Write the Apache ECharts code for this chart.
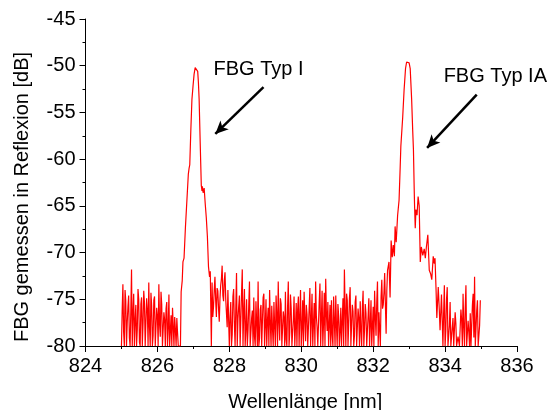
<!DOCTYPE html>
<html>
<head>
<meta charset="utf-8">
<script src="https://cdn.jsdelivr.net/npm/echarts@6/dist/echarts.min.js"></script>
<style>
  html, body { margin: 0; padding: 0; background: #fff; }
  #chart { width: 550px; height: 410px; }
</style>
</head>
<body>
<div id="chart"></div>
<script>
//*************** data ***************
// noise floor, sampled every 0.02 nm
var noiseStep = 0.02;
var noise1Start = 825.00;
var noise1 = [-80, -76.2, -73.4, -78.5, -80, -74.0, -75.2, -80, -77.5, -75.8,
    -74.6, -79.1, -80, -76.3, -71.8, -80, -76.5, -74.4, -80, -77.3,
    -75.6, -80, -78.2, -73.9, -75.0, -79.6, -80, -75.5, -74.8, -80,
    -77.6, -74.1, -75.4, -80, -80, -74.9, -76.1, -80, -73.2, -78.0,
    -80, -74.3, -75.7, -80, -78.9, -75.1, -74.7, -80, -80, -75.9,
    -76.8, -80, -73.4, -77.7, -79.0, -74.2, -75.6, -80, -80, -76.4,
    -77.2, -80, -76.0, -75.3, -80, -78.1, -74.5, -80, -78.4, -76.7,
    -80, -75.9, -77.9, -80, -76.9, -78.2, -80, -77.0, -78.6, -80, -80];

// FBG Typ I reflection peak [wavelength, dB]
var peak1 = [[826.64, -80], [826.66, -74.2], [826.69, -73.0], [826.71, -71.0], [826.74, -70.6],
    [826.78, -67.2], [826.82, -64.4], [826.86, -61.6], [826.88, -61.0], [826.90, -60.6],
    [826.93, -56.8], [826.96, -53.6], [826.99, -52.2], [827.02, -50.9], [827.05, -50.2],
    [827.07, -50.1], [827.10, -50.3], [827.12, -50.6], [827.14, -51.8], [827.16, -53.6],
    [827.19, -58.3], [827.22, -62.8], [827.24, -63.4], [827.25, -62.9], [827.27, -63.6],
    [827.30, -63.1], [827.33, -64.8], [827.36, -66.3], [827.39, -68.3], [827.42, -71.5],
    [827.45, -72.6], [827.47, -72.0], [827.50, -80]];

var noise2Start = 827.52;
var noise2 = [
    -73.2, -76.9, -75.8, -74.0, -72.6, -75.1, -76.9, -73.8, -74.1, -76.0, -77.4, -74.9, -73.5, -72.8, -71.4, -74.6, -75.2, -73.0, -72.1, -75.0,
    -76.5, -78.0, -74.0, -77.2, -80, -76.8, -75.3, -80, -78.8, -74.7, -73.9, -77.6, -80, -75.9, -72.2, -80, -77.1, -75.8, -74.6, -80,
    -80, -74.3, -71.8, -80, -76.4, -73.9, -80, -78.2, -75.0, -80, -78.3, -75.7, -73.1, -80, -80, -77.0, -76.2, -80, -74.8, -79.0,
    -80, -75.2, -77.5, -80, -73.1, -80, -79.2, -76.1, -75.6, -80, -80, -74.8, -74.4, -80, -77.8, -75.0, -80, -77.3, -75.9, -80,
    -74.0, -77.5, -80, -75.7, -78.1, -80, -75.3, -77.9, -80, -74.6, -76.7, -80, -73.1, -77.4, -79.4, -74.9, -75.5, -80, -80, -76.3,
    -77.0, -80, -74.2, -79.3, -80, -75.8, -73.1, -80, -78.6, -74.5, -76.0, -80, -80, -77.2, -74.7, -80, -77.9, -75.4, -80, -76.1,
    -74.7, -80, -76.8, -74.0, -80, -78.1, -75.1, -80, -74.2, -77.0, -79.5, -75.6, -76.6, -80, -80, -75.9, -73.8, -80, -77.2, -74.4,
    -80, -77.6, -75.4, -80, -73.1, -76.8, -78.0, -80, -80, -75.2, -73.3, -80, -76.9, -74.1, -80, -77.5, -74.3, -80, -72.8, -76.6,
    -78.4, -75.3, -80, -77.7, -75.6, -80, -75.1, -78.8, -80, -74.7, -77.3, -80, -74.6, -77.9, -80, -75.5, -76.8, -80, -78.5, -75.9,
    -80, -77.4, -74.9, -80, -71.8, -76.2, -80, -74.4, -75.1, -80, -77.6, -74.9, -73.7, -80, -80, -75.6, -76.3, -80, -78.9, -75.3,
    -74.6, -80, -80, -76.0, -77.0, -80, -75.2, -78.4, -80, -75.8, -74.1, -80, -78.2, -75.5, -76.5, -80, -80, -76.7, -74.9, -80,
    -77.7, -75.1, -80, -77.9, -75.8, -80, -74.1, -76.9, -78.9, -75.3, -73.1, -80, -76.4, -78.2, -80, -74.7, -72.9, -76.0, -75.6, -74.3,
    -72.2, -75.5, -78.7, -74.0, -71.9];

// FBG Typ IA reflection peak [wavelength, dB]
var peak2 = [[832.44, -71.0], [832.47, -74.8], [832.50, -68.7], [832.53, -70.5], [832.56, -69.2],
    [832.59, -70.4], [832.61, -67.2], [832.64, -68.9], [832.68, -66.0], [832.72, -64.4],
    [832.75, -61.0], [832.77, -58.6], [832.79, -58.4], [832.82, -55.6], [832.86, -52.6],
    [832.90, -50.3], [832.93, -49.6], [832.96, -49.5], [833.00, -49.7], [833.03, -50.3],
    [833.07, -53.6], [833.10, -57.0], [833.12, -59.0], [833.14, -63.0], [833.15, -64.8],
    [833.17, -67.4], [833.19, -65.4], [833.22, -66.0], [833.25, -64.0], [833.26, -63.8],
    [833.28, -65.0], [833.31, -71.0], [833.34, -69.4], [833.38, -70.3], [833.42, -69.6],
    [833.45, -70.6], [833.48, -69.4], [833.52, -68.1], [833.56, -71.9], [833.60, -72.3],
    [833.63, -72.9], [833.67, -70.4], [833.70, -71.2], [833.72, -70.6], [833.75, -74.1],
    [833.77, -77.0], [833.81, -73.7], [833.84, -76.2], [833.86, -78.3], [833.90, -74.5]];

var noise3Start = 833.94;
var noise3 = [-80, -76.4, -73.5, -80, -78.4, -75.0, -73.7, -80, -80, -77.8,
    -75.3, -80, -80, -78.0, -77.0, -80, -80, -76.4, -77.6, -80,
    -80, -79.0, -78.9, -80, -80, -76.1, -77.2, -80, -74.4, -77.9,
    -80, -75.9, -73.5, -80, -80, -77.3, -78.5, -80, -76.5, -80,
    -80, -75.6, -74.4, -79.1, -72.6, -80, -80, -76.2, -75.1, -80,
    -80, -77.8, -75.1];

// annotations: text anchor and arrow [from, to] in data units
var labelTypI = {text: 'FBG Typ I', at: [827.56, -50.4]};
var labelTypIA = {text: 'FBG Typ IA', at: [833.96, -51.1]};
var arrowTypI = [[828.95, -52.3], [827.61, -57.3]];
var arrowTypIA = [[834.88, -53.1], [833.50, -58.8]];

var xMin = 824, xMax = 836, xStep = 2;
var yMin = -80, yMax = -45, yStep = 5;
var xTitle = 'Wellenlänge [nm]';
var yTitle = 'FBG gemessen in Reflexion [dB]';

//*************** build series ***************
function gridPairs(start, values) {
    return values.map(function (v, i) {
        return [+(start + i * noiseStep).toFixed(2), v];
    });
}

var spectrum = [].concat(
    gridPairs(noise1Start, noise1),
    peak1,
    gridPairs(noise2Start, noise2),
    peak2,
    gridPairs(noise3Start, noise3)
);

var font = 'Liberation Sans, Arial, sans-serif';

var chart = echarts.init(document.getElementById('chart'), null, {renderer: 'canvas'});

chart.setOption({
    animation: false,
    backgroundColor: '#ffffff',
    grid: {left: 85.5, right: 33, top: 19, bottom: 64, outerBoundsMode: 'none', containLabel: false},
    xAxis: {
        type: 'value',
        min: xMin, max: xMax, interval: xStep,
        name: xTitle,
        nameLocation: 'middle',
        nameGap: 46,
        nameTextStyle: {fontFamily: font, fontSize: 20, color: '#000', padding: [0, 0, 0, 8]},
        axisLine: {show: true, lineStyle: {color: '#000', width: 1}},
        axisTick: {show: true, inside: false, length: 6, lineStyle: {color: '#000'}},
        minorTick: {show: true, splitNumber: 2, length: 3, lineStyle: {color: '#000'}},
        axisLabel: {fontFamily: font, fontSize: 20, color: '#000', margin: 10},
        splitLine: {show: false}
    },
    yAxis: {
        type: 'value',
        min: yMin, max: yMax, interval: yStep,
        axisLine: {show: true, lineStyle: {color: '#000', width: 1}},
        axisTick: {show: true, inside: false, length: 6, lineStyle: {color: '#000'}},
        minorTick: {show: true, splitNumber: 2, length: 3, lineStyle: {color: '#000'}},
        axisLabel: {fontFamily: font, fontSize: 20, color: '#000', margin: 10},
        splitLine: {show: false}
    },
    series: [
        {
            name: 'Reflexion',
            type: 'line',
            data: spectrum,
            showSymbol: false,
            clip: true,
            lineStyle: {color: '#ff0000', width: 1.2},
            markLine: {
                silent: true,
                symbol: ['none', 'arrow'],
                symbolSize: [9, 13],
                label: {show: false},
                lineStyle: {color: '#000', width: 2.5, type: 'solid'},
                data: [
                    [{coord: arrowTypI[0]}, {coord: arrowTypI[1]}],
                    [{coord: arrowTypIA[0]}, {coord: arrowTypIA[1]}]
                ]
            }
        }
    ]
});

// annotation texts, placed through the axes
var graphics = [labelTypI, labelTypIA].map(function (l) {
    var p = chart.convertToPixel({gridIndex: 0}, l.at);
    return {
        type: 'text',
        x: p[0], y: p[1],
        style: {text: l.text, font: '20px ' + font, fill: '#000', verticalAlign: 'middle', align: 'left'}
    };
});
// y title sits a bit below the axis middle in the original
graphics.push({
    type: 'text',
    x: 22, y: 197,
    rotation: Math.PI / 2,
    style: {text: yTitle, font: '20px ' + font, fill: '#000', verticalAlign: 'middle', align: 'center'}
});
chart.setOption({graphic: graphics});
</script>
</body>
</html>
